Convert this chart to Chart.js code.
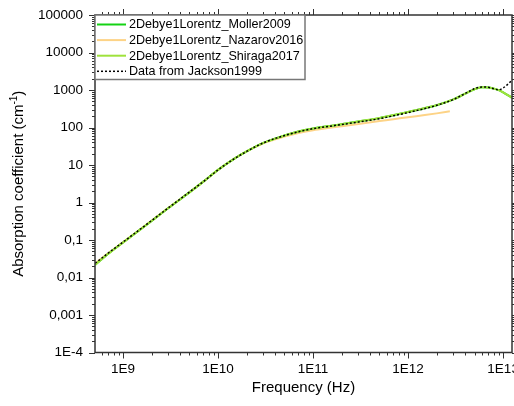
<!DOCTYPE html>
<html>
<head>
<meta charset="utf-8">
<script src="https://cdn.jsdelivr.net/npm/chart.js@4.4.0/dist/chart.umd.min.js"></script>
<style>
  html, body { margin: 0; padding: 0; background: #fff; }
</style>
</head>
<body>
<canvas id="graficoAbsorcao" width="514" height="406"></canvas>
<script>
// frequencias em Hz (eixo x) e coeficientes de absorcao em cm-1 (eixo y)
const frequencias = [5.1e8, 7e8, 1e9, 1.5e9, 2e9, 3e9, 5e9, 7e9, 1e10, 1.5e10, 2e10, 3e10, 5e10, 7e10,
  1e11, 1.5e11, 2e11, 3e11, 5e11, 7e11, 1e12, 1.5e12, 2e12, 3e12, 4e12, 5e12, 6e12, 7e12, 8e12, 9e12, 1e13, 1.24e13];
const moller2009 = [0.022, 0.043, 0.086, 0.186, 0.32, 0.71, 1.86, 3.6, 7.4, 15, 23, 39, 61, 78,
  94, 110, 122, 144, 178, 212, 258, 328, 392, 560, 800, 1050, 1180, 1170, 1090, 990, 870, 620];
const shiraga2017 = [0.022, 0.043, 0.085, 0.185, 0.32, 0.71, 1.85, 3.6, 7.4, 15, 23, 39, 61, 78,
  94, 110, 123, 145, 180, 215, 260, 330, 395, 560, 800, 1050, 1180, 1170, 1090, 990, 870, 620];
const jackson1999 = [0.024, 0.045, 0.088, 0.19, 0.33, 0.72, 1.9, 3.6, 7.4, 15, 23, 39, 61, 77,
  93, 108, 120, 140, 172, 205, 250, 320, 390, 560, 810, 1080, 1200, 1180, 1070, 1010, 1130, 1800];

const frequenciasNazarov = [5.1e8, 7e8, 1e9, 1.5e9, 2e9, 3e9, 5e9, 7e9, 1e10, 1.5e10, 2e10, 3e10, 5e10, 7e10,
  1e11, 1.5e11, 2e11, 3e11, 5e11, 7e11, 1e12, 1.5e12, 2e12, 2.75e12];
const nazarov2016 = [0.024, 0.045, 0.088, 0.19, 0.33, 0.72, 1.9, 3.6, 7.4, 15, 23, 38, 57, 71,
  85, 98, 108, 124, 148, 166, 188, 215, 238, 270];

// ticks dos eixos
const ticksX = [1e9, 1e10, 1e11, 1e12, 1e13];
const rotulosX = ['1E9', '1E10', '1E11', '1E12', '1E13'];
const ticksY = [1e-4, 1e-3, 1e-2, 1e-1, 1, 10, 100, 1000, 10000, 100000];
const rotulosY = ['1E-4', '0,001', '0,01', '0,1', '1', '10', '100', '1000', '10000', '100000'];

const fonte = "'Liberation Sans', Arial, sans-serif";

function juntaPontos(xs, ys) {
  return xs.map((f, i) => ({ x: f, y: ys[i] }));
}

// desenha moldura, ticks menores/maiores, titulo do eixo y e a legenda
const moldura = {
  id: 'moldura',
  afterDraw(chart) {
    const { ctx, chartArea: a, scales: { x, y } } = chart;
    ctx.save();
    ctx.strokeStyle = '#333';
    ctx.lineWidth = 1;
    const marca = (x1, y1, x2, y2) => { ctx.beginPath(); ctx.moveTo(x1, y1); ctx.lineTo(x2, y2); ctx.stroke(); };
    for (let e = 8; e <= 13; e++) {
      for (let k = 1; k <= 9; k++) {
        const v = k * Math.pow(10, e);
        if (v < x.min || v > x.max) continue;
        const px = Math.round(x.getPixelForValue(v)) + 0.5;
        const len = k === 1 ? 6 : 3;
        marca(px, a.bottom, px, a.bottom + len);
        marca(px, a.top, px, a.top - len);
      }
    }
    for (let e = -4; e <= 5; e++) {
      for (let k = 1; k <= 9; k++) {
        const v = k * Math.pow(10, e);
        if (v < y.min * 0.999 || v > y.max * 1.001) continue;
        const py = Math.round(y.getPixelForValue(v)) + 0.5;
        const len = k === 1 ? 6 : 3;
        marca(a.left, py, a.left - len, py);
        marca(a.right, py, a.right + len, py);
      }
    }
    ctx.lineWidth = 1.5;
    ctx.strokeRect(a.left, a.top, a.right - a.left, a.bottom - a.top);

    // titulo do eixo y com sobrescrito
    ctx.fillStyle = '#000';
    ctx.translate(19, (a.top + a.bottom) / 2);
    ctx.rotate(-Math.PI / 2);
    const t1 = 'Absorption coefficient (cm';
    const t2 = '-1';
    const t3 = ')';
    ctx.font = '15px ' + fonte;
    const w1 = ctx.measureText(t1).width;
    const w3 = ctx.measureText(t3).width;
    ctx.font = '10px ' + fonte;
    const w2 = ctx.measureText(t2).width;
    let xi = -(w1 + w2 + w3) / 2;
    ctx.textBaseline = 'middle';
    ctx.font = '15px ' + fonte;
    ctx.fillText(t1, xi, 0);
    ctx.font = '10px ' + fonte;
    ctx.fillText(t2, xi + w1, -5);
    ctx.font = '15px ' + fonte;
    ctx.fillText(t3, xi + w1 + w2, 0);
    ctx.restore();

    // legenda
    ctx.save();
    const lx = a.left, ly = a.top, lw = 210, lh = 64.5;
    ctx.fillStyle = '#fff';
    ctx.fillRect(lx, ly, lw, lh);
    ctx.strokeStyle = '#777';
    ctx.lineWidth = 1.5;
    ctx.strokeRect(lx, ly, lw, lh);
    ctx.font = '12.6px ' + fonte;
    ctx.textBaseline = 'middle';
    chart.data.datasets.forEach((ds, i) => {
      const yy = ly + 9.5 + i * 15.6;
      ctx.strokeStyle = ds.borderColor;
      ctx.lineWidth = ds.borderWidth;
      ctx.setLineDash(ds.borderDash || []);
      marca(lx + 2, yy, lx + 31, yy);
      ctx.setLineDash([]);
      ctx.fillStyle = '#000';
      ctx.fillText(ds.label, lx + 34, yy + 0.5);
    });
    ctx.restore();
  }
};

new Chart(document.getElementById('graficoAbsorcao'), {
  type: 'line',
  data: {
    datasets: [
      { label: '2Debye1Lorentz_Moller2009', data: juntaPontos(frequencias, moller2009),
        borderColor: '#14d214', borderWidth: 2, order: 3 },
      { label: '2Debye1Lorentz_Nazarov2016', data: juntaPontos(frequenciasNazarov, nazarov2016),
        borderColor: '#fdd386', borderWidth: 2, order: 4 },
      { label: '2Debye1Lorentz_Shiraga2017', data: juntaPontos(frequencias, shiraga2017),
        borderColor: '#9fe23c', borderWidth: 2, order: 2 },
      { label: 'Data from Jackson1999', data: juntaPontos(frequencias, jackson1999),
        borderColor: '#000', borderWidth: 1.5, borderDash: [2, 2], order: 1 }
    ]
  },
  options: {
    responsive: false,
    animation: false,
    layout: { padding: { top: 15, right: 2, left: 0, bottom: 0 } },
    elements: { point: { radius: 0 }, line: { cubicInterpolationMode: 'monotone' } },
    plugins: { legend: { display: false }, tooltip: { enabled: false } },
    scales: {
      x: {
        type: 'logarithmic',
        min: 5.07e8,
        max: 1.24e13,
        grid: { display: false, drawTicks: false },
        border: { display: false },
        afterBuildTicks: (scale) => { scale.ticks = ticksX.map(v => ({ value: v })); },
        afterFit: (scale) => { scale.height = 53.5; scale.paddingLeft = 0; scale.paddingRight = 0; },
        ticks: {
          autoSkip: false, maxRotation: 0, padding: 9, color: '#000',
          font: { family: fonte, size: 13.5 },
          callback: (v, i) => rotulosX[i]
        },
        title: { display: true, text: 'Frequency (Hz)', color: '#000',
          font: { family: fonte, size: 15 }, padding: { top: 0, bottom: 9 } }
      },
      y: {
        type: 'logarithmic',
        min: 1e-4,
        max: 1e5,
        grid: { display: false, drawTicks: false },
        border: { display: false },
        afterBuildTicks: (scale) => { scale.ticks = ticksY.map(v => ({ value: v })); },
        afterFit: (scale) => { scale.width = 95; scale.paddingTop = 0; scale.paddingBottom = 0; },
        ticks: {
          autoSkip: false, padding: 12, color: '#000',
          font: { family: fonte, size: 13.5 },
          callback: (v, i) => rotulosY[i]
        }
      }
    }
  },
  plugins: [moldura]
});
</script>
</body>
</html>
